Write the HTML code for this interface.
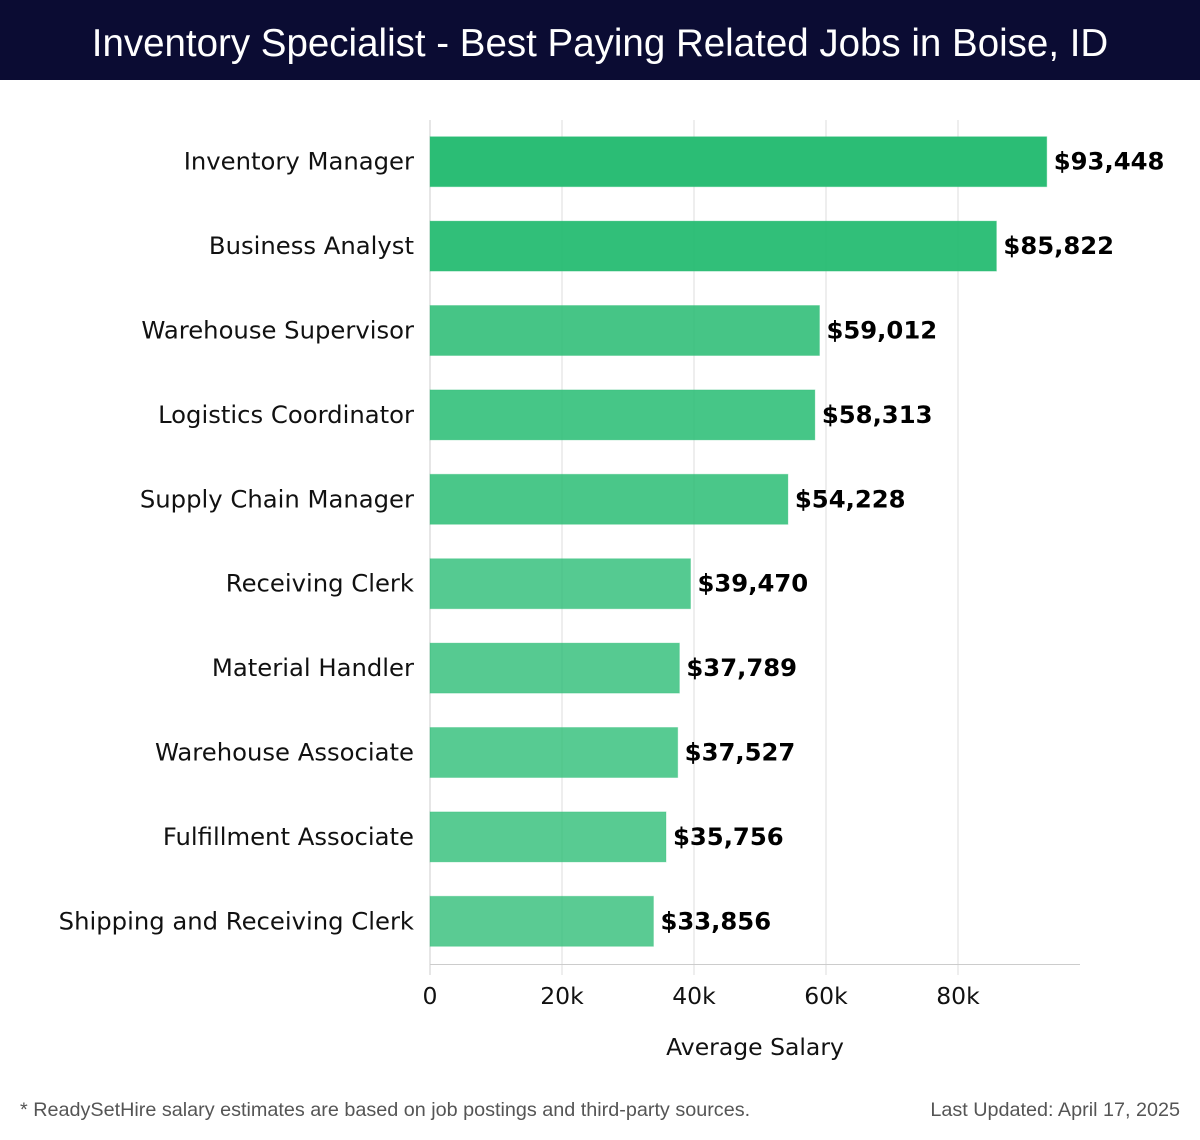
<!DOCTYPE html>
<html><head><meta charset="utf-8"><style>
body{margin:0;width:1200px;height:1140px;background:#fff;overflow:hidden;font-family:"DejaVu Sans","Liberation Sans",sans-serif}
#title{position:absolute;left:0;top:0;width:1200px;height:80px;background:#0b0c33;color:#fff;font:38.5px "Liberation Sans",sans-serif;text-align:center;line-height:88px}
.foot{position:absolute;top:1099px;font:19.8px "Liberation Sans",sans-serif;color:#555}
</style></head><body>
<div id="title">Inventory Specialist - Best Paying Related Jobs in Boise, ID</div>
<svg id="chart" width="1200" height="1140" style="position:absolute;left:0;top:0"></svg>
<div class="foot" style="left:20px">* ReadySetHire salary estimates are based on job postings and third-party sources.</div>
<div class="foot" style="right:20px">Last Updated: April 17, 2025</div>
<script>
const categories=["Inventory Manager","Business Analyst","Warehouse Supervisor","Logistics Coordinator","Supply Chain Manager","Receiving Clerk","Material Handler","Warehouse Associate","Fulfillment Associate","Shipping and Receiving Clerk"];
const salaries=[93448,85822,59012,58313,54228,39470,37789,37527,35756,33856];
const tickValues=[0,20000,40000,60000,80000];
const tickLabels=["0","20k","40k","60k","80k"];
const NS="http://www.w3.org/2000/svg";
const svg=document.getElementById('chart');
const x0=430,pxPerUnit=6.6/1000,top0=120,band=84.4,barH=50;
const xs=v=>x0+v*pxPerUnit;
const yc=i=>top0+band*i+band/2-0.5;
function mk(t,a,txt){const e=document.createElementNS(NS,t);for(const k in a)e.setAttribute(k,a[k]);if(txt!==undefined)e.textContent=txt;svg.appendChild(e);return e;}
tickValues.forEach((v,i)=>{
 const g=mk('line',{x1:xs(v),x2:xs(v),y1:top0,y2:975,stroke:'#dddddd','stroke-width':1});
 
 
 const t=mk('text',{x:xs(v),y:1004,'text-anchor':'middle','font-size':23.5,fill:'#111'},tickLabels[i]);
 
 
});
const ax=mk('line',{x1:x0,x2:1080,y1:964.5,y2:964.5,stroke:'#cccccc','stroke-width':1});


const yl=mk('line',{x1:x0,x2:x0,y1:top0,y2:975,stroke:'#cccccc','stroke-width':1});


const maxV=Math.max(...salaries),minV=Math.min(...salaries);
categories.forEach((c,i)=>{
 const v=salaries[i];
 const op=0.78+0.22*(v-minV)/(maxV-minV);
 const r=mk('rect',{x:x0,y:yc(i)-barH/2,width:xs(v)-x0,height:barH,fill:'#2bbd75','fill-opacity':op,stroke:'#2bbd75','stroke-opacity':0.3});
 
 
 const l=mk('text',{x:414,y:yc(i)+8,'text-anchor':'end','font-size':24.3,fill:'#111'},c);
 
 
 const vl=mk('text',{x:xs(v)+7,y:yc(i)+8,'font-size':24.3,'font-weight':'bold',fill:'#000'},'$'+v.toLocaleString('en-US'));
 
 
});
const xt=mk('text',{x:755,y:1055,'text-anchor':'middle','font-size':23.5,fill:'#111'},'Average Salary');


</script>
</body></html>
